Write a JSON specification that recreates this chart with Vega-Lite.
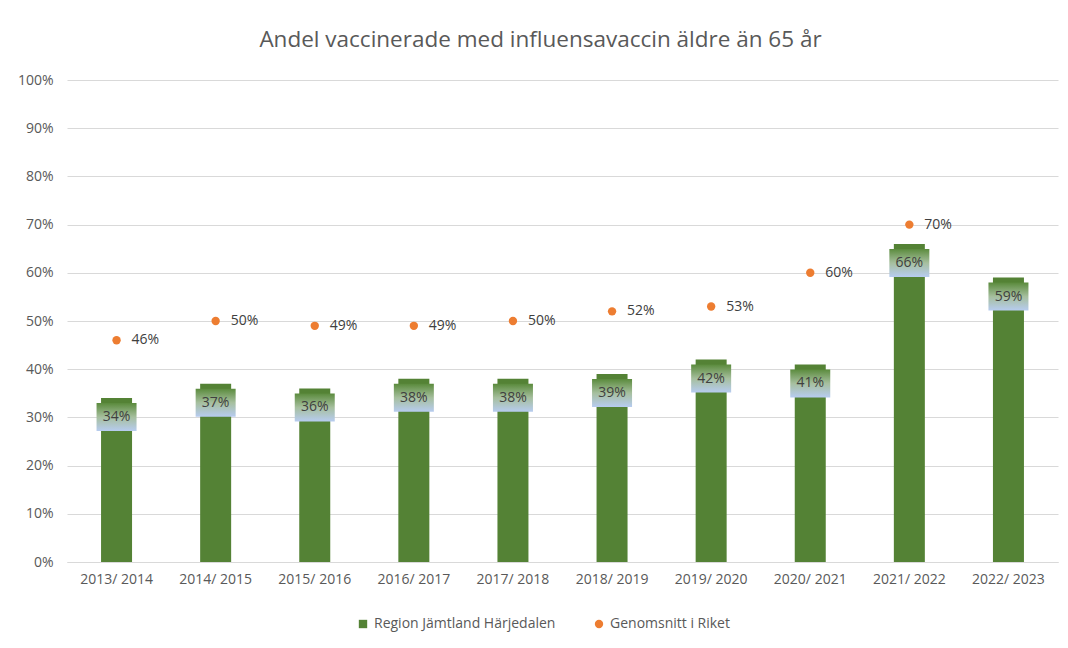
{
  "$schema": "https://vega.github.io/schema/vega-lite/v6.json",
  "autosize": {"type": "none"},
  "width": 991,
  "height": 482,
  "padding": {"left": 67, "top": 80, "right": 10, "bottom": 86},
  "background": "white",
  "config": {
    "font": "Open Sans",
    "view": {"stroke": null}
  },
  "title": {
    "text": "Andel vaccinerade med influensavaccin äldre än 65 år",
    "fontSize": 22.5,
    "fontWeight": "normal",
    "color": "#595959",
    "anchor": "middle",
    "dx": -22,
    "offset": 22
  },
  "data": {
    "values": [
      {"year": "2013/ 2014", "region": 0.34, "riket": 0.46},
      {"year": "2014/ 2015", "region": 0.37, "riket": 0.50},
      {"year": "2015/ 2016", "region": 0.36, "riket": 0.49},
      {"year": "2016/ 2017", "region": 0.38, "riket": 0.49},
      {"year": "2017/ 2018", "region": 0.38, "riket": 0.50},
      {"year": "2018/ 2019", "region": 0.39, "riket": 0.52},
      {"year": "2019/ 2020", "region": 0.42, "riket": 0.53},
      {"year": "2020/ 2021", "region": 0.41, "riket": 0.60},
      {"year": "2021/ 2022", "region": 0.66, "riket": 0.70},
      {"year": "2022/ 2023", "region": 0.59, "riket": null}
    ]
  },
  "encoding": {
    "x": {
      "field": "year",
      "type": "nominal",
      "sort": null,
      "title": null,
      "axis": {
        "labelAngle": 0,
        "labelFontSize": 14,
        "labelColor": "#595959",
        "labelPadding": 10,
        "ticks": false,
        "domainColor": "#d9d9d9",
        "grid": false
      }
    }
  },
  "layer": [
    {
      "mark": {"type": "bar", "width": 31},
      "encoding": {
        "y": {
          "field": "region",
          "type": "quantitative",
          "scale": {"domain": [0, 1], "nice": false},
          "title": null,
          "axis": {
            "format": ".0%",
            "values": [0, 0.1, 0.2, 0.3, 0.4, 0.5, 0.6, 0.7, 0.8, 0.9, 1],
            "labelOverlap": false,
            "labelFontSize": 14,
            "labelColor": "#595959",
            "labelPadding": 14,
            "ticks": false,
            "domain": false,
            "gridColor": "#d9d9d9",
            "gridWidth": 1
          }
        },
        "color": {
          "datum": "Region Jämtland Härjedalen",
          "type": "nominal",
          "scale": {
            "domain": ["Region Jämtland Härjedalen", "Genomsnitt i Riket"],
            "range": ["#548235", "#ED7D31"]
          },
          "legend": {
            "title": null,
            "orient": "none",
            "legendX": 289,
            "legendY": 537,
            "direction": "horizontal",
            "labelFontSize": 14,
            "labelLimit": 400,
            "labelColor": "#595959",
            "symbolSize": 70,
            "symbolStrokeWidth": 0,
            "columnPadding": 36,
            "labelOffset": 4,
            "encode": {
              "symbols": {
                "update": {
                  "shape": {"signal": "datum.value === 'Genomsnitt i Riket' ? 'circle' : 'square'"}
                }
              }
            }
          }
        }
      }
    },
    {
      "mark": {
        "type": "tick",
        "size": 40,
        "thickness": 28,
        "yOffset": 19,
        "opacity": 1,
        "fill": {
          "gradient": "linear",
          "x1": 0, "y1": 0, "x2": 0, "y2": 1,
          "stops": [
            {"offset": 0, "color": "#5b8b3d"},
            {"offset": 0.5, "color": "#a6bf9e"},
            {"offset": 1, "color": "#b7ccf0"}
          ]
        }
      },
      "encoding": {
        "y": {"field": "region", "type": "quantitative"}
      }
    },
    {
      "mark": {"type": "text", "fontSize": 14, "color": "#404040", "yOffset": 19, "baseline": "middle"},
      "encoding": {
        "y": {"field": "region", "type": "quantitative"},
        "text": {"field": "region", "type": "quantitative", "format": ".0%"}
      }
    },
    {
      "transform": [{"filter": "datum.riket != null"}],
      "mark": {"type": "point", "filled": true, "size": 70, "opacity": 1},
      "encoding": {
        "y": {"field": "riket", "type": "quantitative"},
        "color": {"datum": "Genomsnitt i Riket", "type": "nominal"}
      }
    },
    {
      "transform": [{"filter": "datum.riket != null"}],
      "mark": {"type": "text", "fontSize": 14, "color": "#404040", "align": "left", "dx": 15, "baseline": "middle"},
      "encoding": {
        "y": {"field": "riket", "type": "quantitative"},
        "text": {"field": "riket", "type": "quantitative", "format": ".0%"}
      }
    }
  ]
}
